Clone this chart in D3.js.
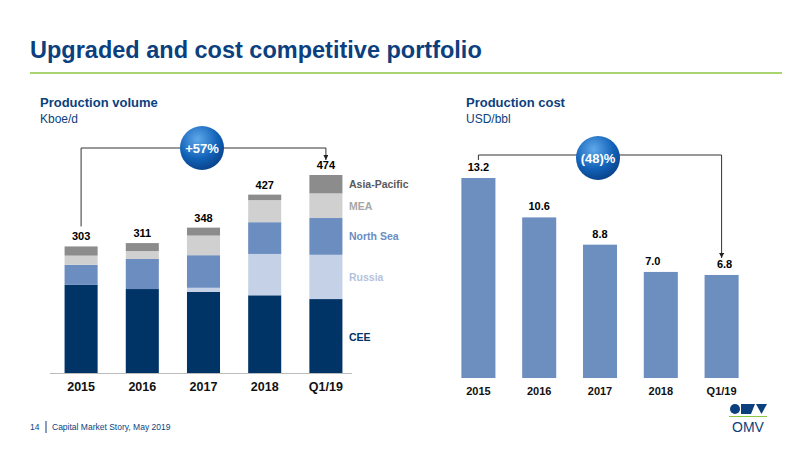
<!DOCTYPE html>
<html><head><meta charset="utf-8">
<script src="https://cdn.jsdelivr.net/npm/d3@7"></script>
<style>body{margin:0;background:#fff}text{font-family:Arial,"Liberation Sans",sans-serif}</style>
</head><body><svg id="c" width="800" height="451"></svg>
<script>
// production volume, kboe/d
const years = ['2015', '2016', '2017', '2018', 'Q1/19'];
const regions = ['CEE', 'Russia', 'North Sea', 'MEA', 'Asia-Pacific'];
const cee = [211, 201, 194, 186, 177];
const russia = [0, 0, 10, 99, 106];
const northSea = [48, 72, 78, 76, 88];
const mea = [22, 19, 47, 53, 59];
const asiaPac = [22, 19, 19, 13, 44];
const totals = [303, 311, 348, 427, 474];
// production cost, USD/bbl
const cost = [13.2, 10.6, 8.8, 7.0, 6.8];

const colors = ['#003366', '#c5d1e6', '#6b8dbf', '#d0d0d0', '#8c8c8c'];
const labelColors = ['#003366', '#b4c2dc', '#6b8dbf', '#a6a6a6', '#595959'];

const svg = d3.select('#c');

// header
svg.append('text').attr('x', 30).attr('y', 58).attr('font-size', 23.5).attr('font-weight', 'bold')
  .attr('fill', '#0c3f7e').text('Upgraded and cost competitive portfolio');
svg.append('line').attr('x1', 30).attr('x2', 782).attr('y1', 73).attr('y2', 73)
  .attr('stroke', '#8cc63f').attr('stroke-width', 1.5);

const sub = (x, t1, t2) => {
  svg.append('text').attr('x', x).attr('y', 107).attr('font-size', 13).attr('font-weight', 'bold').attr('fill', '#0c3f7e').text(t1);
  svg.append('text').attr('x', x).attr('y', 123).attr('font-size', 12).attr('fill', '#0c3f7e').text(t2);
};
sub(40, 'Production volume', 'Kboe/d');
sub(466, 'Production cost', 'USD/bbl');

const defs = svg.append('defs');
const g = defs.append('radialGradient').attr('id', 'bub').attr('cx', '40%').attr('cy', '30%').attr('r', '75%');
g.append('stop').attr('offset', '0%').attr('stop-color', '#5fa8ea');
g.append('stop').attr('offset', '60%').attr('stop-color', '#1262b8');
g.append('stop').attr('offset', '100%').attr('stop-color', '#083f85');
defs.append('marker').attr('id', 'arr').attr('viewBox', '0 0 10 10').attr('refX', 5).attr('refY', 10)
  .attr('markerWidth', 5).attr('markerHeight', 5).attr('orient', '0')
  .append('path').attr('d', 'M0,0L10,0L5,10Z').attr('fill', '#222');

// left stacked chart
const x1 = d3.scaleBand().domain(years).range([50.5, 356.5]).paddingInner(0.46).paddingOuter(0.23);
const y1 = d3.scaleLinear().domain([0, 474]).range([373, 175]);
const table = years.map((yr, i) => ({year: yr, 'CEE': cee[i], 'Russia': russia[i], 'North Sea': northSea[i], 'MEA': mea[i], 'Asia-Pacific': asiaPac[i]}));
const stacked = d3.stack().keys(regions)(table);
svg.append('g').selectAll('g').data(stacked).join('g').attr('fill', (d, i) => colors[i])
  .selectAll('rect').data(d => d).join('rect')
  .attr('x', d => x1(d.data.year)).attr('width', x1.bandwidth())
  .attr('y', d => y1(d[1])).attr('height', d => y1(d[0]) - y1(d[1]));
svg.append('g').selectAll('text').data(totals).join('text')
  .attr('x', (d, i) => x1(years[i]) + x1.bandwidth() / 2).attr('y', d => y1(d) - 6)
  .attr('text-anchor', 'middle').attr('font-size', 11).attr('font-weight', 'bold').text(d => d);
const ax1 = svg.append('g').attr('transform', 'translate(0,373)').call(d3.axisBottom(x1).tickSize(0).tickPadding(9));
ax1.select('.domain').attr('stroke', '#bbb').attr('d', 'M50,0.5H352');
ax1.selectAll('text').attr('font-size', 12.5).attr('font-weight', 'bold').attr('fill', '#111');

// region labels at the last bar
const last = stacked.map(s => s[4]);
svg.append('g').selectAll('text').data(regions).join('text')
  .attr('x', 349).attr('y', (d, i) => i === 0 ? 341 : y1((last[i][0] + last[i][1]) / 2) + 4)
  .attr('font-size', 10.5).attr('font-weight', 'bold').attr('fill', (d, i) => labelColors[i]).text(d => d);

// +57% bracket
const cx0 = x1('2015') + x1.bandwidth() / 2, cx4 = x1('Q1/19') + x1.bandwidth() / 2;
svg.append('path').attr('d', `M${cx0},${y1(303) - 20}V148H${cx4}V160`).attr('fill', 'none')
  .attr('stroke', '#333').attr('marker-end', 'url(#arr)');
svg.append('circle').attr('cx', 202).attr('cy', 148).attr('r', 22).attr('fill', 'url(#bub)');
svg.append('text').attr('x', 202).attr('y', 153).attr('text-anchor', 'middle').attr('fill', '#fff')
  .attr('font-size', 13).attr('font-weight', 'bold').text('+57%');

// right cost chart
const x2 = d3.scaleBand().domain(years).range([448, 752]).paddingInner(0.44).paddingOuter(0.22);
const y2 = d3.scaleLinear().domain([0, 13.2]).range([378, 178]);
svg.append('g').selectAll('rect').data(cost).join('rect').attr('fill', '#6d8fbf')
  .attr('x', (d, i) => x2(years[i])).attr('width', x2.bandwidth())
  .attr('y', d => y2(d)).attr('height', d => 378 - y2(d));
svg.append('g').selectAll('text').data(cost).join('text')
  .attr('x', (d, i) => x2(years[i]) + x2.bandwidth() / 2 + (i >= 3 ? (i === 3 ? -8 : 3) : 0))
  .attr('y', d => y2(d) - 7).attr('text-anchor', 'middle').attr('font-size', 11).attr('font-weight', 'bold')
  .text(d => d.toFixed(1));
const ax2 = svg.append('g').attr('transform', 'translate(0,378)').call(d3.axisBottom(x2).tickSize(0).tickPadding(9));
ax2.select('.domain').remove();
ax2.selectAll('text').attr('font-size', 11).attr('font-weight', 'bold').attr('fill', '#111');

const dx0 = x2('2015') + x2.bandwidth() / 2, dx4 = x2('Q1/19') + x2.bandwidth() / 2;
svg.append('path').attr('d', `M${dx0},${y2(13.2) - 18}V155H${dx4}V${y2(6.8) - 17}`).attr('fill', 'none')
  .attr('stroke', '#333').attr('marker-end', 'url(#arr)');
svg.append('circle').attr('cx', 598).attr('cy', 158).attr('r', 22).attr('fill', 'url(#bub)');
svg.append('text').attr('x', 598).attr('y', 163).attr('text-anchor', 'middle').attr('fill', '#fff')
  .attr('font-size', 13).attr('font-weight', 'bold').text('(48)%');

// footer
svg.append('text').attr('x', 30).attr('y', 430).attr('font-size', 8.5).attr('fill', '#0c3f7e').text('14');
svg.append('line').attr('x1', 46).attr('x2', 46).attr('y1', 421).attr('y2', 433).attr('stroke', '#0c3f7e');
svg.append('text').attr('x', 52).attr('y', 430).attr('font-size', 8.5).attr('fill', '#0c3f7e').text('Capital Market Story, May 2019');

// logo
const lg = svg.append('g').attr('transform', 'translate(729,404)');
lg.append('circle').attr('cx', 6).attr('cy', 5).attr('r', 5).attr('fill', '#0c3f7e');
lg.append('path').attr('d', 'M12,0H26L22,10H12Z').attr('fill', '#0c3f7e');
lg.append('path').attr('d', 'M27,0H38L32.5,10Z').attr('fill', '#0c3f7e');
lg.append('line').attr('x1', 0).attr('x2', 38).attr('y1', 12.5).attr('y2', 12.5).attr('stroke', '#8cc63f');
lg.append('text').attr('x', 19).attr('y', 28).attr('text-anchor', 'middle').attr('font-size', 14).attr('fill', '#0c3f7e').text('OMV');
</script></body></html>
